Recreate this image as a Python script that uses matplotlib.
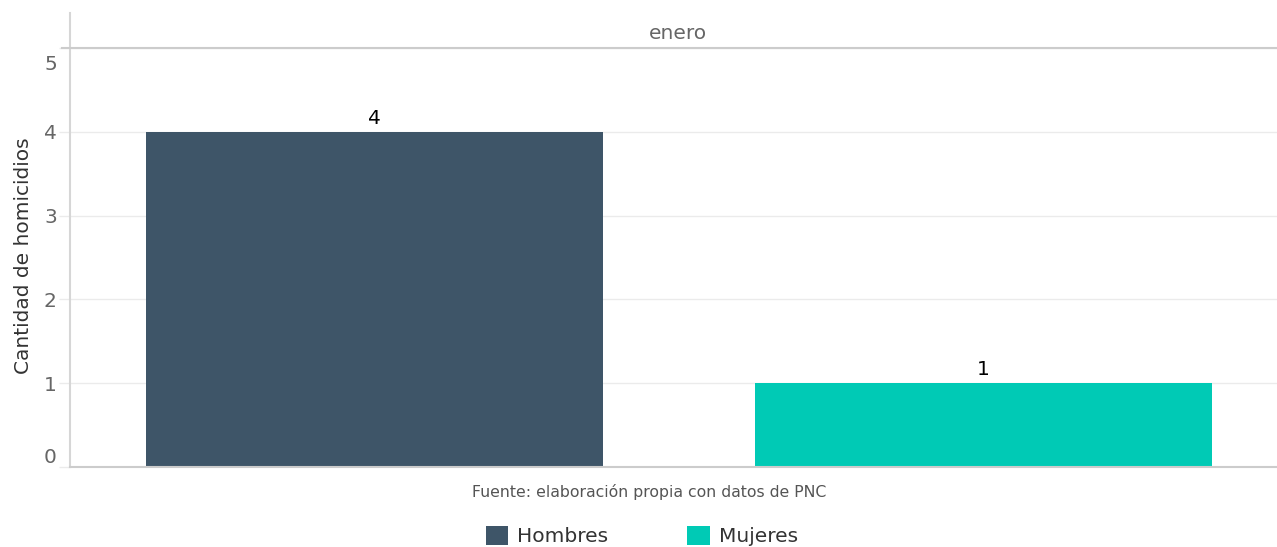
import matplotlib
matplotlib.use('Agg')
import matplotlib.pyplot as plt
from matplotlib.patches import Patch
from matplotlib.transforms import ScaledTranslation

# datos
categorias = ['Hombres', 'Mujeres']
homicidios = [4, 1]
colores = ['#3e5568', '#00cab5']
mes = 'enero'
fuente = 'Fuente: elaboración propia con datos de PNC'

fig = plt.figure(figsize=(12.77, 5.47), dpi=100)
W, H = 1277, 547
ax = fig.add_axes([70 / W, (H - 467) / H, (1277 - 70) / W, (467 - 13) / H])

x = list(range(len(categorias)))
barras = ax.bar(x, homicidios, width=0.75, color=colores, zorder=2)

# etiquetas sobre las barras
for xi, v in zip(x, homicidios):
    ax.text(xi, v + 0.05, str(v), ha='center', va='bottom', fontsize=14.5, color='black')

ax.set_xlim(-0.5, 1.482)
ax.set_ylim(0, 5.42)
ax.set_xticks([])
ax.set_yticks([0, 1, 2, 3, 4, 5])
ax.tick_params(axis='y', length=8, color='#ebebeb', width=1, labelsize=14.5,
               labelcolor='#666666', pad=1.5)
for lbl in ax.get_yticklabels():
    if lbl.get_text() == '0':
        lbl.set_va('bottom')
    elif lbl.get_text() == '5':
        lbl.set_va('top')
        lbl.set_transform(lbl.get_transform() + ScaledTranslation(0, -5 / 72, fig.dpi_scale_trans))
ax.yaxis.grid(True, color='#ebebeb', lw=1, zorder=0)
ax.set_axisbelow(True)

for s in ['top', 'right']:
    ax.spines[s].set_visible(False)
ax.spines['left'].set_color('#d6d6d6')
ax.spines['left'].set_linewidth(1.5)
ax.spines['bottom'].set_color('#cccccc')
ax.spines['bottom'].set_linewidth(1.5)

# linea de la faceta
ax.plot([-8 / 1207, 1], [5, 5], transform=ax.get_yaxis_transform(), color='#cccccc',
        lw=1.5, clip_on=False, zorder=3)
ax.text(0.504, 5.18, mes, transform=ax.get_yaxis_transform(), ha='center', va='center',
        fontsize=14.5, color='#666666')

ax.set_ylabel('Cantidad de homicidios', fontsize=14.5, color='#333333')
ax.yaxis.set_label_coords(-0.0305, 0.465)

fig.text(649 / W, 1 - 492 / H, fuente, ha='center', va='center', fontsize=11.3, color='#555555')

handles = [Patch(facecolor=c, label=l) for c, l in zip(colores, categorias)]
fig.legend(handles=handles, loc='center', bbox_to_anchor=(0.5025, 1 - 536 / H), ncol=2,
           frameon=False, fontsize=14.5, handlelength=1.13, handleheight=1.13,
           handletextpad=0.44, columnspacing=3.9, labelcolor='#333333', borderpad=0)

fig.savefig('out.png', dpi=100)
